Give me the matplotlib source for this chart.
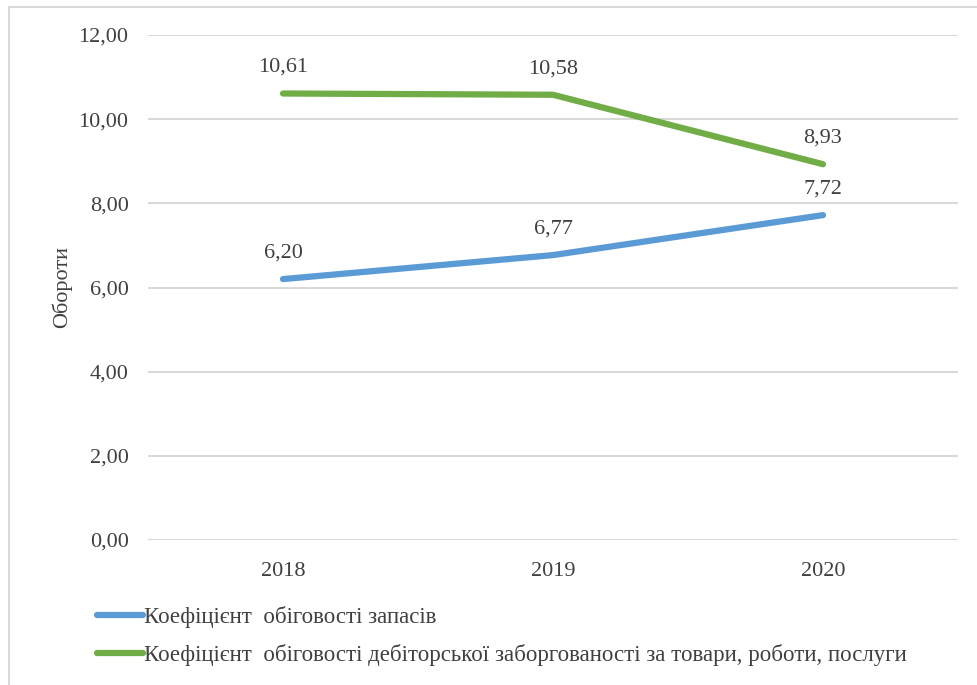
import matplotlib
matplotlib.use("Agg")
import matplotlib.pyplot as plt
from matplotlib.lines import Line2D
from matplotlib.patches import Rectangle

years = ["2018", "2019", "2020"]
inventory_turnover = [6.20, 6.77, 7.72]
receivables_turnover = [10.61, 10.58, 8.93]
series_names = [
    "Коефіцієнт  обіговості запасів",
    "Коефіцієнт  обіговості дебіторської заборгованості за товари, роботи, послуги",
]
y_ticks = [0, 2, 4, 6, 8, 10, 12]

BLUE = "#5b9bd5"
GREEN = "#70ad47"
TEXT = "#404040"

plt.rcParams["font.family"] = ["Liberation Serif", "DejaVu Serif"]

fig = plt.figure(figsize=(9.78, 6.85), dpi=100)
ax = fig.add_axes([148 / 978, 1 - 540 / 685, (958 - 148) / 978, (540 - 35) / 685])

# light frame around the chart area
fig.patches.append(Rectangle((9 / 978, -0.1), 1.2, 1 - 7 / 685 + 0.1,
                             transform=fig.transFigure, fill=False,
                             edgecolor="#d9d9d9", linewidth=1.5))

x = list(range(len(years)))
for vals, color in [(inventory_turnover, BLUE), (receivables_turnover, GREEN)]:
    ax.plot(x, vals, color=color, linewidth=4.5, solid_capstyle="round", zorder=3)
    for xi, v in zip(x, vals):
        ax.annotate(f"{v:.2f}".replace(".", ","), (xi, v), xytext=(0, 12),
                    textcoords="offset points", ha="center", va="bottom",
                    fontsize=16, color=TEXT)

ax.set_xlim(-0.5, len(years) - 0.5)
ax.set_ylim(0, 12)
ax.set_xticks(x)
ax.set_xticklabels(years)
ax.set_yticks(y_ticks)
ax.set_yticklabels([f"{t:.2f}".replace(".", ",") for t in y_ticks])
ax.tick_params(length=0, labelsize=16, labelcolor=TEXT)
ax.tick_params(axis="y", pad=14)
ax.tick_params(axis="x", pad=16)
ax.grid(axis="y", color="#d9d9d9", linewidth=1.5)
ax.set_axisbelow(True)
for s in ax.spines.values():
    s.set_visible(False)
ax.set_ylabel("Обороти", fontsize=16, color=TEXT)
ax.yaxis.set_label_coords(-76 / 810, 0.5)

handles = [Line2D([], [], color=BLUE, linewidth=4.5, solid_capstyle="round"),
           Line2D([], [], color=GREEN, linewidth=4.5, solid_capstyle="round")]
fig.legend(handles, series_names, loc="upper left",
           bbox_to_anchor=(97 / 978, 1 - 606 / 685), frameon=False,
           fontsize=16.5, handlelength=2.0, handletextpad=0.05,
           labelspacing=0.72, labelcolor=TEXT, borderaxespad=0,
           borderpad=0)

fig.savefig("out.png", dpi=100, facecolor="white")
